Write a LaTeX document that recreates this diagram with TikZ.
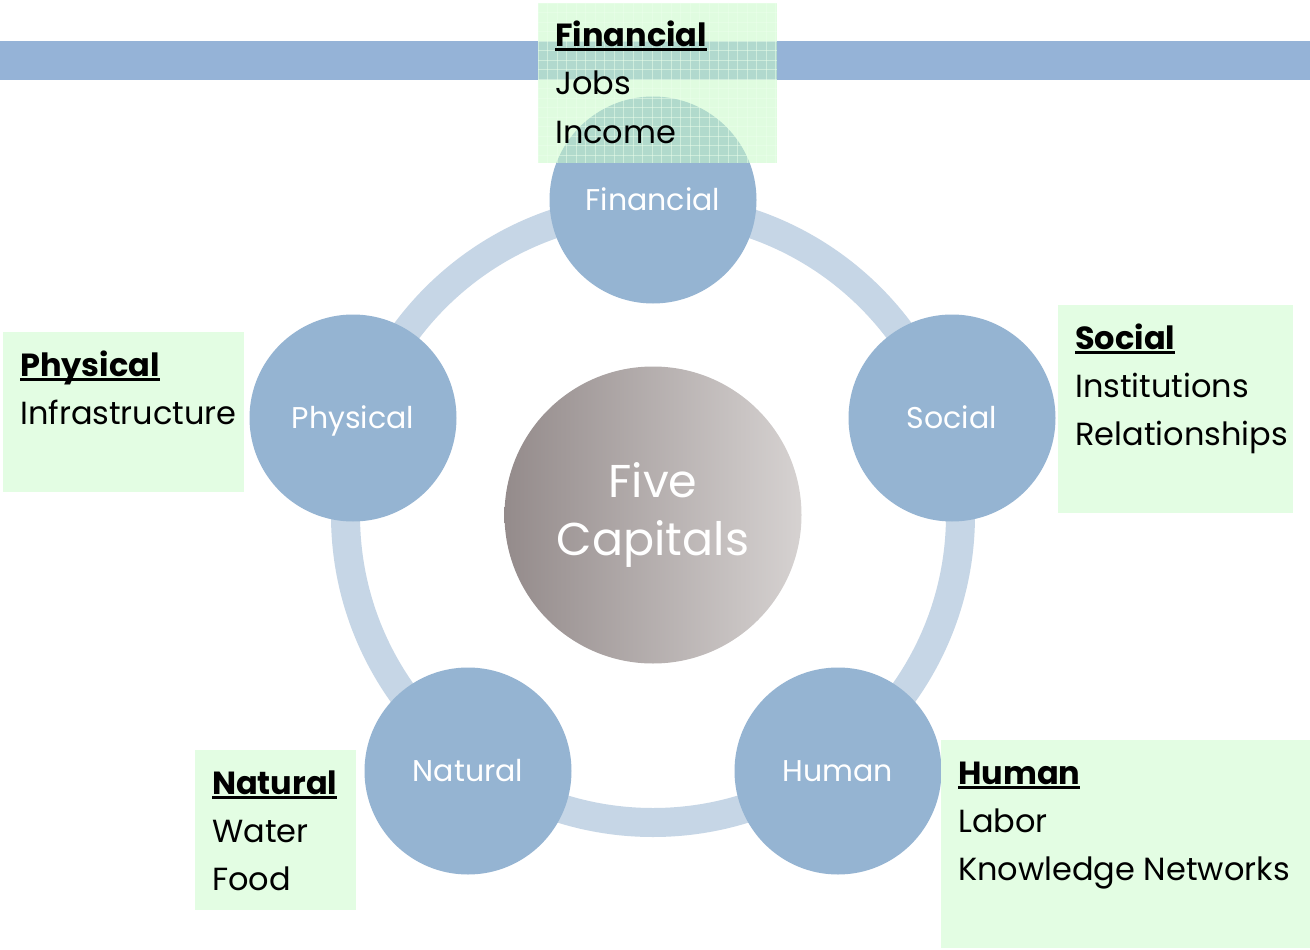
\documentclass[tikz,border=0pt]{standalone}
\usepackage{fontspec}
\setmainfont{Poppins}
\definecolor{bandc}{RGB}{149,179,215}
\definecolor{capc}{RGB}{149,180,210}
\definecolor{ringc}{RGB}{198,214,230}
\definecolor{boxg}{RGB}{227,253,227}
\definecolor{boxgt}{RGB}{200,250,200}
\definecolor{gridg}{RGB}{235,255,235}
\definecolor{gradl}{RGB}{148,139,139}
\definecolor{gradr}{RGB}{214,210,209}
\newcommand\hdul[1]{\setbox0\hbox{\bfseries #1}\rlap{\rule[-4.5pt]{\wd0}{3pt}}\box0}
\tikzset{
  capital/.style={circle, fill=capc, minimum size=207pt, inner sep=0pt, text=white,
    font=\fontsize{30}{36}\selectfont, text height=21pt, text depth=0pt},
  infobox/.style={fill=boxg, inner sep=0pt, anchor=north west},
  ln/.style={anchor=base west, inner sep=0pt, font=\fontsize{32}{38}\selectfont, text=black},
}
\begin{document}
\begin{tikzpicture}[x=1pt,y=-1pt]
\useasboundingbox (0,0) rectangle (1310,950);
\fill[white] (0,0) rectangle (1310,950);
% top band
\fill[bandc] (0,41) rectangle (1310,80);
% ring
\draw[ringc, line width=29pt] (653,515) circle[radius=307.5pt];
% capitals
\node[capital] (fin) at (653,200) {Financial};
\node[capital] (phy) at (353,418) {Physical};
\node[capital] (soc) at (952,418) {Social};
\node[capital] (nat) at (468,771) {Natural};
\node[capital] (hum) at (838,771) {Human};
% center
\node[circle, minimum size=297pt, inner sep=0pt, left color=gradl, right color=gradr,
  text=white, align=center, font=\fontsize{46}{58}\selectfont] (five) at (653,515) {\rule{0pt}{6pt}Five\\Capitals};
% Financial box (transparent, gridded)
\node[inner sep=0pt, anchor=north west, minimum width=239pt, minimum height=160pt,
  fill=boxgt, fill opacity=0.55] (finbox) at (538,3) {};
\foreach \i in {0,...,25} {
  \draw[gridg, line width=0.8pt, opacity=0.5] (538+\i*9.5,3) -- (538+\i*9.5,163);
}
\foreach \j in {0,...,16} {
  \draw[gridg, line width=0.8pt, opacity=0.5] (538,3+\j*9.5) -- (777,3+\j*9.5);
}
\node[ln] (fin1) at (555,47) {\hdul{Financial}};
\node[ln] (fin2) at (555,95) {Jobs};
\node[ln] (fin3) at (555,143) {Income};
% Physical box
\node[infobox, minimum width=241pt, minimum height=160pt] (phybox) at (3,332) {};
\node[ln] (phy1) at (20,376) {\hdul{Physical}};
\node[ln] (phy2) at (20,424) {Infrastructure};
% Social box
\node[infobox, minimum width=235pt, minimum height=208pt] (socbox) at (1058,305) {};
\node[ln] (soc1) at (1075,349) {\hdul{Social}};
\node[ln] (soc2) at (1075,397) {Institutions};
\node[ln] (soc3) at (1075,445) {Relationships};
% Natural box
\node[infobox, minimum width=161pt, minimum height=160pt] (natbox) at (195,750) {};
\node[ln] (nat1) at (212,794) {\hdul{Natural}};
\node[ln] (nat2) at (212,842) {Water};
\node[ln] (nat3) at (212,890) {Food};
% Human box
\node[infobox, minimum width=369pt, minimum height=208pt] (humbox) at (941,740) {};
\node[ln] (hum1) at (958,784) {\hdul{Human}};
\node[ln] (hum2) at (958,832) {Labor};
\node[ln] (hum3) at (958,880) {Knowledge Networks};
\end{tikzpicture}
\end{document}
